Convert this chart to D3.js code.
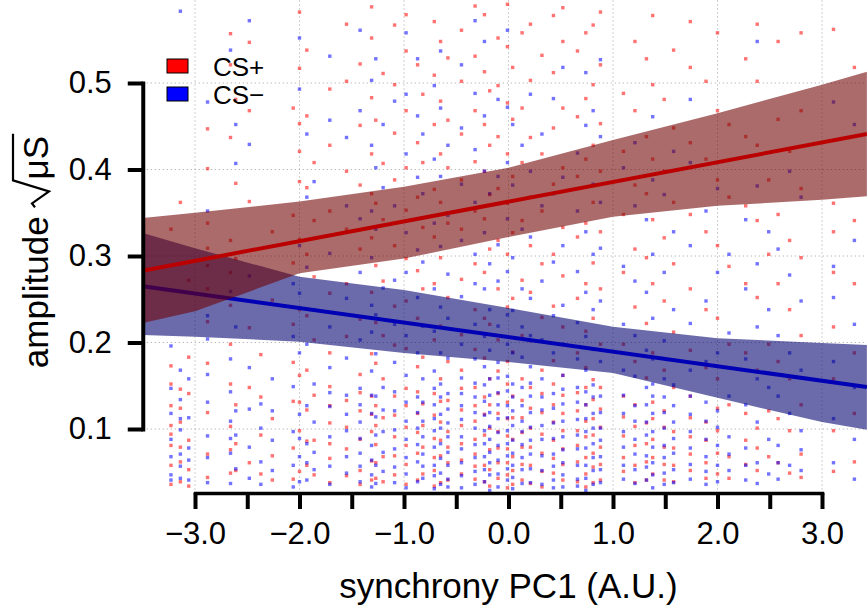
<!DOCTYPE html>
<html>
<head>
<meta charset="utf-8">
<script src="https://cdn.jsdelivr.net/npm/d3@7"></script>
<style>
  html, body { margin: 0; padding: 0; background: #fff; }
  svg { display: block; font-family: "Liberation Sans", Arial, Helvetica, sans-serif; }
</style>
</head>
<body>
<svg id="chart" width="867" height="607"></svg>
<script>
// ---------------- data ----------------
const xTicks = [-3, -2.5, -2, -1.5, -1, -0.5, 0, 0.5, 1, 1.5, 2, 2.5, 3];
const xTickLabels = ["\u22123.0", "", "\u22122.0", "", "\u22121.0", "", "0.0", "", "1.0", "", "2.0", "", "3.0"];
const yTicks = [0.1, 0.2, 0.3, 0.4, 0.5];
const yTickLabels = ["0.1", "0.2", "0.3", "0.4", "0.5"];
const xGrid = [-3, -2, -1, 0, 1, 2, 3];
const xExtent = [-3.5, 3.43];
const yExtent = [0.026, 0.6];

const seriesNames = ["CS+", "CS\u2212"];

// per-subject synchrony PC1 values (x) and the trial amplitudes for each condition
const subjectX = [-3.23, -3.14, -3.06, -2.88, -2.66, -2.61, -2.48, -2.37, -2.26, -2.06,
  -2.00, -1.93, -1.86, -1.71, -1.55, -1.42, -1.31, -1.27, -1.20, -1.09,
  -0.98, -0.87, -0.82, -0.71, -0.65, -0.58, -0.45, -0.32, -0.23, -0.18,
  -0.10, -0.01, 0.04, 0.13, 0.21, 0.32, 0.43, 0.52, 0.66, 0.74,
  0.81, 0.88, 1.10, 1.21, 1.32, 1.38, 1.49, 1.58, 1.74, 1.89,
  2.00, 2.11, 2.27, 2.38, 2.49, 2.58, 2.69, 2.80, 3.11, 3.31];

const csPlusY = [
  [0.036,0.058,0.081,0.104,0.127,0.152,0.173,0.331,0.094],
  [0.062,0.108,0.146,0.124,0.079,0.362,0.039],
  [0.053,0.087,0.141,0.183,0.272,0.034],
  [0.071,0.119,0.176,0.224,0.289,0.338,0.401,0.447,0.309,0.262,0.044],
  [0.049,0.103,0.152,0.198,0.243,0.318,0.437,0.521,0.557,0.281,0.076],
  [0.083,0.128,0.297,0.384,0.481,0.052],
  [0.061,0.148,0.217,0.363,0.468,0.547],
  [0.048,0.093,0.137,0.186],
  [0.069,0.112,0.249,0.328,0.041],
  [0.078,0.132,0.177,0.221,0.292,0.347,0.471,0.042],
  [0.051,0.098,0.162,0.238,0.319,0.386,0.453,0.517,0.582,0.421,0.131],
  [0.058,0.122,0.168,0.231,0.302,0.379,0.462,0.538,0.086],
  [0.087,0.139,0.203,0.276,0.341,0.408,0.047],
  [0.038,0.066,0.107,0.149,0.188,0.257,0.352,0.428,0.493,0.083,0.127],
  [0.077,0.133,0.207,0.268,0.331,0.398,0.502,0.568,0.046,0.102],
  [0.052,0.088,0.121,0.163,0.227,0.308,0.382,0.451,0.522,0.036,0.142],
  [0.063,0.097,0.138,0.187,0.258,0.321,0.372,0.418,0.483,0.552,0.588,0.041,0.117],
  [0.043,0.082,0.127,0.176,0.223,0.289,0.361,0.457,0.061,0.104],
  [0.068,0.113,0.158,0.208,0.271,0.342,0.407,0.511,0.039],
  [0.047,0.091,0.138,0.197,0.242,0.312,0.388,0.442,0.498,0.567,0.069,0.116],
  [0.059,0.102,0.147,0.193,0.248,0.297,0.353,0.402,0.468,0.537,0.579,0.036,0.081,0.127],
  [0.041,0.072,0.118,0.172,0.228,0.283,0.368,0.431,0.521,0.096,0.143],
  [0.079,0.129,0.183,0.262,0.333,0.408,0.487,0.048,0.104],
  [0.052,0.089,0.141,0.203,0.268,0.322,0.377,0.452,0.509,0.571,0.034,0.116,0.067],
  [0.038,0.069,0.108,0.158,0.219,0.298,0.362,0.418,0.479,0.548,0.087,0.132],
  [0.061,0.097,0.133,0.178,0.252,0.338,0.402,0.457,0.529,0.041,0.079],
  [0.048,0.083,0.122,0.168,0.209,0.273,0.331,0.388,0.441,0.502,0.561,0.064,0.104,0.147],
  [0.042,0.071,0.109,0.148,0.192,0.238,0.291,0.352,0.409,0.468,0.531,0.589,0.057,0.088,0.127],
  [0.058,0.093,0.137,0.182,0.228,0.281,0.343,0.398,0.452,0.513,0.579,0.039,0.117],
  [0.053,0.101,0.158,0.221,0.308,0.371,0.428,0.491,0.076,0.128,0.034],
  [0.043,0.078,0.118,0.167,0.203,0.262,0.318,0.378,0.438,0.497,0.552,0.061,0.097,0.141],
  [0.032,0.061,0.092,0.131,0.178,0.241,0.302,0.361,0.418,0.477,0.542,0.591,0.047,0.077,0.112,0.152],
  [0.052,0.088,0.138,0.189,0.251,0.327,0.392,0.458,0.518,0.068,0.113,0.036],
  [0.041,0.079,0.113,0.158,0.208,0.272,0.341,0.408,0.471,0.558,0.059,0.096,0.133],
  [0.058,0.101,0.148,0.202,0.258,0.312,0.368,0.437,0.503,0.568,0.037,0.079,0.124],
  [0.033,0.072,0.119,0.168,0.229,0.291,0.352,0.418,0.532,0.051,0.094,0.141],
  [0.049,0.087,0.128,0.179,0.242,0.302,0.383,0.448,0.512,0.578,0.066,0.108,0.152],
  [0.041,0.077,0.118,0.162,0.218,0.277,0.333,0.402,0.471,0.548,0.587,0.059,0.098,0.139],
  [0.062,0.098,0.142,0.188,0.251,0.322,0.392,0.461,0.537,0.039,0.081,0.121],
  [0.048,0.091,0.128,0.171,0.213,0.268,0.338,0.412,0.482,0.558,0.067,0.109,0.148,0.033],
  [0.038,0.072,0.112,0.157,0.228,0.292,0.362,0.428,0.498,0.567,0.056,0.093,0.134],
  [0.059,0.102,0.148,0.198,0.262,0.328,0.398,0.453,0.521,0.582,0.041,0.079,0.123],
  [0.051,0.092,0.138,0.198,0.281,0.348,0.421,0.488,0.067,0.114],
  [0.038,0.081,0.128,0.178,0.241,0.308,0.382,0.468,0.548,0.058,0.103],
  [0.062,0.107,0.159,0.222,0.298,0.372,0.438,0.528,0.041,0.083],
  [0.048,0.088,0.131,0.188,0.268,0.342,0.412,0.498,0.578,0.067,0.112],
  [0.041,0.079,0.121,0.168,0.248,0.321,0.398,0.481,0.059,0.102],
  [0.058,0.097,0.148,0.212,0.291,0.362,0.448,0.538,0.039,0.078],
  [0.052,0.091,0.138,0.191,0.262,0.348,0.431,0.518,0.571,0.071,0.113],
  [0.061,0.108,0.171,0.238,0.328,0.412,0.502,0.043,0.087],
  [0.048,0.098,0.158,0.228,0.312,0.388,0.468,0.558,0.072,0.124],
  [0.068,0.128,0.198,0.288,0.368,0.452,0.043],
  [0.059,0.118,0.188,0.268,0.358,0.438,0.528,0.087],
  [0.052,0.101,0.168,0.252,0.341,0.428,0.502,0.568,0.078],
  [0.068,0.121,0.198,0.302,0.388],
  [0.061,0.112,0.178,0.268,0.348,0.458,0.548],
  [0.049,0.098,0.158,0.238,0.318,0.421],
  [0.071,0.128,0.208,0.298,0.378,0.468,0.558,0.044],
  [0.051,0.098,0.158,0.218,0.281,0.328,0.361,0.562],
  [0.062,0.118,0.188,0.268,0.341,0.518]
];

const csMinusY = [
  [0.047,0.118,0.147,0.088,0.196,0.041,0.068],
  [0.043,0.071,0.099,0.134,0.168,0.057,0.583,0.112],
  [0.064,0.113,0.078,0.158,0.041],
  [0.038,0.092,0.131,0.163,0.231,0.352,0.478,0.204,0.067],
  [0.072,0.109,0.143,0.181,0.259,0.538,0.089,0.037],
  [0.054,0.093,0.121,0.218,0.452,0.407],
  [0.079,0.123,0.171,0.277,0.429,0.572,0.043],
  [0.062,0.101,0.129,0.036],
  [0.052,0.087,0.121,0.158],
  [0.058,0.097,0.149,0.207,0.268,0.033],
  [0.068,0.117,0.188,0.257,0.312,0.493,0.552,0.039,0.089],
  [0.041,0.083,0.127,0.198,0.287,0.368,0.441,0.061],
  [0.053,0.108,0.152,0.238,0.386,0.073],
  [0.057,0.091,0.126,0.171,0.218,0.303,0.457,0.531,0.036,0.142],
  [0.049,0.098,0.139,0.182,0.251,0.358,0.437,0.068,0.117],
  [0.039,0.072,0.108,0.147,0.203,0.281,0.343,0.468,0.561,0.057,0.128,0.089],
  [0.047,0.081,0.118,0.167,0.212,0.243,0.298,0.352,0.428,0.503,0.064,0.139,0.033],
  [0.058,0.093,0.138,0.187,0.232,0.331,0.402,0.528,0.037,0.114],
  [0.051,0.097,0.148,0.263,0.379,0.452,0.073,0.122],
  [0.038,0.077,0.121,0.177,0.221,0.272,0.358,0.479,0.056,0.099,0.143],
  [0.048,0.088,0.131,0.162,0.208,0.281,0.327,0.418,0.487,0.558,0.067,0.109,0.032],
  [0.062,0.101,0.137,0.188,0.252,0.307,0.391,0.462,0.528,0.039,0.082,0.119],
  [0.043,0.071,0.109,0.158,0.219,0.293,0.372,0.441,0.057,0.091,0.131],
  [0.031,0.058,0.098,0.128,0.167,0.213,0.262,0.338,0.412,0.497,0.046,0.079,0.112,0.147],
  [0.049,0.083,0.117,0.152,0.188,0.241,0.311,0.392,0.471,0.537,0.036,0.066,0.101,0.137],
  [0.042,0.073,0.107,0.141,0.182,0.228,0.279,0.347,0.428,0.058,0.091,0.123,0.033],
  [0.032,0.061,0.091,0.127,0.159,0.198,0.253,0.318,0.383,0.448,0.521,0.046,0.077,0.111,0.141],
  [0.051,0.082,0.119,0.153,0.181,0.221,0.268,0.302,0.362,0.423,0.488,0.572,0.036,0.067,0.101,0.137],
  [0.039,0.068,0.098,0.132,0.172,0.207,0.262,0.327,0.398,0.462,0.548,0.053,0.083,0.116,0.151],
  [0.029,0.061,0.088,0.119,0.158,0.191,0.238,0.291,0.372,0.047,0.103,0.139,0.073],
  [0.048,0.081,0.112,0.142,0.177,0.219,0.271,0.313,0.392,0.481,0.033,0.064,0.096,0.128,0.159],
  [0.041,0.069,0.098,0.127,0.161,0.198,0.232,0.282,0.343,0.408,0.472,0.561,0.054,0.083,0.113,0.144],
  [0.031,0.058,0.087,0.121,0.152,0.188,0.237,0.298,0.382,0.452,0.044,0.072,0.104,0.137],
  [0.053,0.082,0.109,0.148,0.183,0.218,0.262,0.331,0.428,0.037,0.067,0.097,0.127],
  [0.038,0.071,0.102,0.138,0.172,0.208,0.251,0.322,0.398,0.487,0.054,0.087,0.119,0.153],
  [0.052,0.088,0.122,0.158,0.203,0.271,0.358,0.441,0.036,0.069,0.104,0.137],
  [0.041,0.071,0.107,0.141,0.188,0.231,0.293,0.372,0.482,0.057,0.089,0.124,0.032],
  [0.033,0.061,0.091,0.129,0.162,0.198,0.243,0.312,0.391,0.518,0.047,0.076,0.109,0.146],
  [0.042,0.077,0.111,0.148,0.181,0.223,0.282,0.352,0.419,0.058,0.093,0.131,0.034],
  [0.029,0.058,0.097,0.128,0.168,0.207,0.258,0.328,0.451,0.512,0.043,0.078,0.112,0.143],
  [0.052,0.083,0.118,0.151,0.192,0.238,0.302,0.383,0.468,0.036,0.067,0.101,0.137],
  [0.038,0.068,0.101,0.138,0.178,0.248,0.309,0.362,0.438,0.527,0.053,0.087,0.119],
  [0.042,0.079,0.118,0.168,0.221,0.288,0.402,0.058,0.097,0.139],
  [0.053,0.088,0.127,0.161,0.208,0.271,0.358,0.431,0.037,0.071,0.109],
  [0.041,0.069,0.108,0.148,0.191,0.258,0.342,0.056,0.093,0.128],
  [0.032,0.061,0.097,0.138,0.181,0.228,0.302,0.388,0.461,0.047,0.079,0.118,0.152],
  [0.049,0.081,0.119,0.158,0.202,0.281,0.371,0.036,0.067,0.101,0.137],
  [0.038,0.072,0.108,0.151,0.238,0.328,0.421,0.053,0.089,0.127],
  [0.042,0.078,0.117,0.168,0.222,0.312,0.408,0.481,0.059,0.097,0.138],
  [0.051,0.088,0.131,0.178,0.248,0.352,0.036,0.068,0.109],
  [0.039,0.081,0.121,0.188,0.281,0.378,0.058,0.102],
  [0.052,0.091,0.138,0.211,0.302,0.071],
  [0.041,0.078,0.128,0.181,0.262,0.342,0.058],
  [0.061,0.108,0.158,0.218,0.291,0.381,0.548,0.037],
  [0.048,0.088,0.148,0.238,0.328],
  [0.042,0.081,0.138,0.208,0.308,0.061],
  [0.058,0.118,0.188,0.278,0.398],
  [0.052,0.098,0.168,0.248,0.368,0.076],
  [0.061,0.112,0.178,0.252,0.288,0.478],
  [0.042,0.088,0.148,0.221,0.318,0.452]
];

// fitted regression lines (end points at plot edges)
const csPlusFitX = [-3.5, 3.43];
const csPlusFitY = [0.283, 0.441];
const csMinusFitX = [-3.5, 3.43];
const csMinusFitY = [0.265, 0.1486];

// confidence bands
const bandX = [-3.5, -3, -2, -1, 0, 1, 2, 3, 3.43];
const csPlusHi = [0.344, 0.350, 0.363, 0.380, 0.402, 0.434, 0.465, 0.498, 0.513];
const csPlusLo = [0.2225, 0.236, 0.280, 0.297, 0.322, 0.3455, 0.358, 0.365, 0.369];
const csMinusHi = [0.3266, 0.309, 0.276, 0.2607, 0.240, 0.2183, 0.205, 0.1994, 0.197];
const csMinusLo = [0.2087, 0.2067, 0.201, 0.188, 0.1775, 0.1647, 0.136, 0.108, 0.099];

// ---------------- drawing ----------------
const svg = d3.select("#chart");
const x = d3.scaleLinear().domain([-3, 3]).range([195, 822]);
const y = d3.scaleLinear().domain([0.1, 0.5]).range([429, 83]);

const plotLeft = x(xExtent[0]), plotRight = x(xExtent[1]);
const plotTop = y(yExtent[1]), plotBottom = 493;

svg.append("defs").append("clipPath").attr("id", "plotclip")
  .append("rect").attr("x", plotLeft).attr("y", plotTop)
  .attr("width", plotRight - plotLeft).attr("height", plotBottom - plotTop);

// grid
const grid = svg.append("g").attr("stroke", "#a0a0a0").attr("stroke-width", 1)
  .attr("stroke-dasharray", "1,3");
grid.selectAll("line.v").data(xGrid).join("line").attr("class", "v")
  .attr("x1", d => x(d)).attr("x2", d => x(d))
  .attr("y1", plotTop).attr("y2", plotBottom);
grid.selectAll("line.h").data(yTicks).join("line").attr("class", "h")
  .attr("x1", plotLeft).attr("x2", plotRight)
  .attr("y1", d => y(d)).attr("y2", d => y(d));

const plot = svg.append("g").attr("clip-path", "url(#plotclip)");

// points
function pts(ys) {
  const out = [];
  subjectX.forEach((sx, i) => ys[i].forEach(v => out.push([sx, v])));
  return out;
}
const pSize = 3.4;
plot.append("g").selectAll("rect").data(pts(csPlusY)).join("rect")
  .attr("x", d => x(d[0]) - pSize / 2).attr("y", d => y(d[1]) - pSize / 2)
  .attr("width", pSize).attr("height", pSize)
  .attr("fill", "rgba(255,0,0,0.55)");
plot.append("g").selectAll("rect").data(pts(csMinusY)).join("rect")
  .attr("x", d => x(d[0]) - pSize / 2).attr("y", d => y(d[1]) - pSize / 2)
  .attr("width", pSize).attr("height", pSize)
  .attr("fill", "rgba(0,0,255,0.55)");

const area = d3.area().x(d => x(d[0])).y0(d => y(d[1])).y1(d => y(d[2]));
const line = d3.line().x(d => x(d[0])).y(d => y(d[1]));

// CS- band & line
plot.append("path").datum(bandX.map((bx, i) => [bx, csMinusLo[i], csMinusHi[i]]))
  .attr("d", area).attr("fill", "rgb(0,0,110)").attr("fill-opacity", 0.58);
plot.append("path").datum(csMinusFitX.map((fx, i) => [fx, csMinusFitY[i]]))
  .attr("d", line).attr("fill", "none").attr("stroke", "#0000b4").attr("stroke-width", 4);
// CS+ band & line
plot.append("path").datum(bandX.map((bx, i) => [bx, csPlusLo[i], csPlusHi[i]]))
  .attr("d", area).attr("fill", "rgb(110,0,0)").attr("fill-opacity", 0.58);
plot.append("path").datum(csPlusFitX.map((fx, i) => [fx, csPlusFitY[i]]))
  .attr("d", line).attr("fill", "none").attr("stroke", "#bb0000").attr("stroke-width", 4);

// y axis
const yAxis = svg.append("g").attr("transform", `translate(${plotLeft},0)`)
  .call(d3.axisLeft(y).tickValues(yTicks).tickSize(15).tickSizeOuter(0).tickPadding(16)
    .tickFormat((d, i) => yTickLabels[i]));
yAxis.select(".domain").attr("stroke-width", 4).attr("stroke-linecap", "square");
yAxis.selectAll(".tick line").attr("stroke-width", 4);
yAxis.selectAll(".tick text").attr("font-size", 31).attr("fill", "#000")
  .attr("font-family", "Liberation Sans, Arial, sans-serif");

// x axis
const xAxis = svg.append("g").attr("transform", `translate(0,${plotBottom})`)
  .call(d3.axisBottom(x).tickValues(xTicks).tickSize(16).tickSizeOuter(0).tickPadding(13)
    .tickFormat((d, i) => xTickLabels[i]));
xAxis.select(".domain").attr("stroke-width", 3.5).attr("stroke-linecap", "square");
xAxis.selectAll(".tick line").attr("stroke-width", 4);
xAxis.selectAll(".tick text").attr("font-size", 31).attr("fill", "#000")
  .attr("font-family", "Liberation Sans, Arial, sans-serif");

// x title
svg.append("text").attr("x", x(0)).attr("y", 598).attr("text-anchor", "middle")
  .attr("font-size", 35).attr("fill", "#000").text("synchrony PC1 (A.U.)");

// y title with radical
const yt = svg.append("g").attr("transform", "translate(48,251) rotate(-90)");
const t1 = yt.append("text").attr("font-size", 35).attr("fill", "#000").text("amplitude");
const t2 = yt.append("text").attr("font-size", 35).attr("fill", "#000").text("\u03bcS");
const w1 = t1.node().getComputedTextLength();
const w2 = t2.node().getComputedTextLength();
const gap = 9, radW = 27;
const total = w1 + gap + radW + 1 + w2 + 2;
const s0 = -total / 2;
t1.attr("x", s0);
const rx = s0 + w1 + gap;
t2.attr("x", rx + radW + 1);
yt.append("path")
  .attr("d", `M${rx},-13 L${rx + 4},-16 L${rx + 16},1 L${rx + radW},-35 L${rx + radW + 1 + w2 + 2},-35`)
  .attr("fill", "none").attr("stroke", "#000").attr("stroke-width", 2.2)
  .attr("stroke-linejoin", "miter");

// legend
const legColors = ["#ff0000", "#0000ff"];
const leg = svg.append("g");
seriesNames.forEach((name, i) => {
  const cy = 66 + i * 28;
  leg.append("rect").attr("x", 167).attr("y", cy - 7).attr("width", 21).attr("height", 14)
    .attr("fill", legColors[i]).attr("stroke", "#000").attr("stroke-width", 1);
  leg.append("text").attr("x", 213).attr("y", cy + 9.5).attr("font-size", 26)
    .attr("fill", "#000").text(name);
});
</script>
</body>
</html>
